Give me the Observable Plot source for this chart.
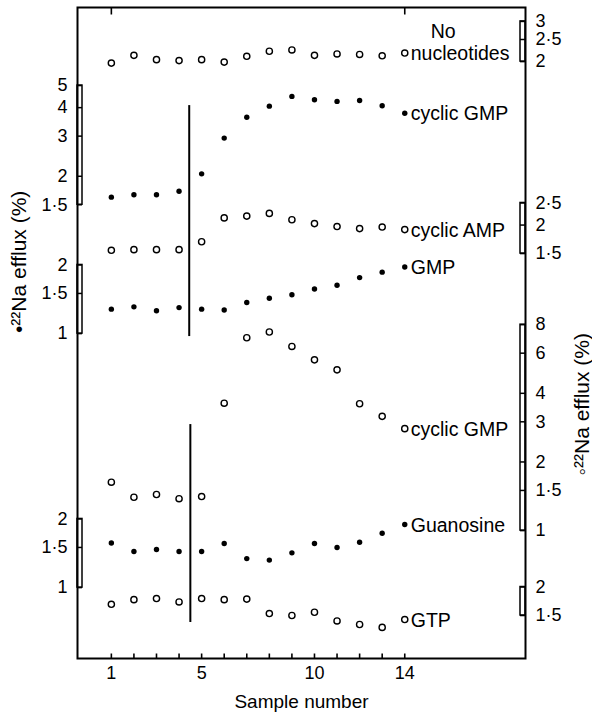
<!DOCTYPE html>
<html>
<head>
<meta charset="utf-8">
<script src="https://cdn.jsdelivr.net/npm/d3@7"></script>
<script src="https://cdn.jsdelivr.net/npm/@observablehq/plot@0.6"></script>
<style>
  html, body { margin: 0; padding: 0; background: #fff; }
  #chart { width: 592px; height: 716px; }
</style>
</head>
<body>
<div id="chart"></div>
<script>
// ---------------- data ----------------
const samples = [1, 2, 3, 4, 5, 6, 7, 8, 9, 10, 11, 12, 13, 14];
const xTickLabels = [1, 5, 10, 14];

// 22Na efflux (%) per sample
const noNucleotides   = [1.97, 2.13, 2.04, 2.02, 2.04, 1.99, 2.11, 2.22, 2.25, 2.13, 2.16, 2.15, 2.12, 2.18]; // open
const cyclicGMPFilled = [1.62, 1.66, 1.66, 1.72, 2.05, 2.94, 3.63, 4.06, 4.48, 4.33, 4.26, 4.30, 4.08, 3.78]; // filled
const cyclicAMP       = [1.55, 1.56, 1.56, 1.56, 1.69, 2.15, 2.19, 2.25, 2.11, 2.03, 1.97, 1.93, 1.96, 1.91]; // open
const gmp             = [1.28, 1.31, 1.26, 1.30, 1.28, 1.27, 1.37, 1.43, 1.48, 1.57, 1.63, 1.76, 1.86, 1.96]; // filled
const cyclicGMPOpen   = [1.63, 1.40, 1.44, 1.38, 1.41, 3.62, 7.01, 7.43, 6.42, 5.61, 5.07, 3.60, 3.17, 2.80]; // open
const guanosine       = [1.57, 1.44, 1.47, 1.44, 1.44, 1.56, 1.34, 1.32, 1.42, 1.56, 1.50, 1.58, 1.73, 1.89]; // filled
const gtp             = [1.68, 1.76, 1.78, 1.72, 1.78, 1.76, 1.77, 1.53, 1.50, 1.55, 1.42, 1.37, 1.33, 1.44]; // open

const seriesNames  = ["nucleotides", "cyclic GMP", "cyclic AMP", "GMP", "cyclic GMP", "Guanosine", "GTP"];
const seriesValues = [noNucleotides, cyclicGMPFilled, cyclicAMP, gmp, cyclicGMPOpen, guanosine, gtp];
const seriesOpen   = [true, false, true, false, true, false, true];

// scale-bar ticks per series (value ticks on the log scale bars)
const barTicks = [
  [2, 2.5, 3],
  [1.5, 2, 3, 4, 5],
  [1.5, 2, 2.5],
  [1, 1.5, 2],
  [1, 1.5, 2, 3, 4, 6, 8],
  [1, 1.5, 2],
  [1.5, 2]
];

// sample at which the nucleotide was added (vertical markers) and the series they span
const additionSample = [4.45, 4.5];
const additionSpan = [[1, 3], [4, 6]]; // from series index to series index

// ---------------- layout (positions / styles) ----------------
const pxPerDecade = 228;
const W = 592, H = 716;
const mL = 77, mR = 67, mT = 7, mB = 58;
const frameH = H - mT - mB;
const yMax = frameH / pxPerDecade;
const xDomain = [-0.5, 19.35];
const pxPerSample = (W - mL - mR) / (xDomain[1] - xDomain[0]);
// vertical offset (in decades above the frame bottom) of value 1 for each series
const offsets = [2.317, 1.814, 1.600, 1.425, 0.561, 0.311, 0.0125];
// additional extents of the addition markers beyond series (decades)
const additionTop = [2.425, 1.026];
const additionBottom = [1.412, 0.158];
const barWidthPx = 5;
const fmt = v => String(v).replace(".", "\u00B7");

// ---------------- derived tables ----------------
const pts = [];
seriesValues.forEach((vals, k) => {
  vals.forEach((v, i) => pts.push({x: samples[i], y: Math.log10(v) + offsets[k], open: seriesOpen[k]}));
});
const labels = seriesValues.map((vals, k) => ({
  x: samples[samples.length - 1],
  y: Math.log10(vals[vals.length - 1]) + offsets[k],
  text: seriesNames[k]
}));
const bars = barTicks.map((t, k) => {
  const right = seriesOpen[k];
  const w = barWidthPx / pxPerSample;
  return {
    x1: right ? xDomain[1] - w : xDomain[0],
    x2: right ? xDomain[1] : xDomain[0] + w,
    y1: Math.log10(d3.min(t)) + offsets[k],
    y2: Math.log10(d3.max(t)) + offsets[k],
    right
  };
});
const ticks = [];
barTicks.forEach((t, k) => t.forEach(v => ticks.push({
  y: Math.log10(v) + offsets[k], label: fmt(v), right: seriesOpen[k],
  x1: bars[k].x1, x2: bars[k].x2
})));
const additions = additionSample.map((s, j) => ({x: s, y1: additionTop[j], y2: additionBottom[j]}));

const tickUp = {draw(ctx) { ctx.moveTo(0, 0); ctx.lineTo(0, -5); }};
const tickDown = {draw(ctx) { ctx.moveTo(0, 0); ctx.lineTo(0, 7); }};

const chart = Plot.plot({
  width: W, height: H,
  marginLeft: mL, marginRight: mR, marginTop: mT, marginBottom: mB,
  style: {fontFamily: "'Liberation Sans', Arial, sans-serif", color: "black", background: "white"},
  x: {domain: xDomain, axis: null},
  y: {domain: [0, yMax], axis: null},
  marks: [
    // scale bars
    Plot.rect(bars, {x1: "x1", x2: "x2", y1: "y1", y2: "y2", fill: "white", stroke: "black", strokeWidth: 1.5}),
    Plot.ruleY(ticks, {y: "y", x1: "x1", x2: "x2", stroke: "black", strokeWidth: 1.5}),
    Plot.text(ticks.filter(d => !d.right), {y: "y", text: "label", frameAnchor: "left", dx: -10, textAnchor: "end", fontSize: 18}),
    Plot.text(ticks.filter(d => d.right), {y: "y", text: "label", frameAnchor: "right", dx: 10, textAnchor: "start", fontSize: 18}),
    // frame and x ticks
    Plot.frame({stroke: "black", strokeWidth: 2}),
    Plot.dot(samples, {x: d => d, frameAnchor: "bottom", symbol: tickUp, stroke: "black", strokeWidth: 1.6, fill: "none"}),
    Plot.dot([samples[0], samples[samples.length - 1]], {x: d => d, frameAnchor: "top", symbol: tickDown, stroke: "black", strokeWidth: 1.6, fill: "none"}),
    Plot.text(xTickLabels, {x: d => d, frameAnchor: "bottom", dy: 20, fontSize: 18}),
    Plot.text(["Sample number"], {frameAnchor: "bottom", dy: 49, fontSize: 19}),
    Plot.text(["\u2022\u00B2\u00B2Na efflux (%)"], {frameAnchor: "left", dx: -58, dy: 0, rotate: -90, fontSize: 21, letterSpacing: 0.5}),
    Plot.text(["\u25E6\u00B2\u00B2Na efflux (%)"], {frameAnchor: "right", dx: 57, rotate: -90, fontSize: 21, letterSpacing: 0.5}),
    // addition markers
    Plot.ruleX(additions, {x: "x", y1: "y1", y2: "y2", stroke: "black", strokeWidth: 2}),
    // data
    Plot.dot(pts.filter(d => d.open), {x: "x", y: "y", r: 3.1, stroke: "black", strokeWidth: 1.4, fill: "white"}),
    Plot.dot(pts.filter(d => !d.open), {x: "x", y: "y", r: 2.7, fill: "black", stroke: "none"}),
    // series labels
    Plot.text(labels, {x: "x", y: "y", text: "text", dx: 6, dy: 1, textAnchor: "start", fontSize: 19.5}),
    Plot.text([labels[0]], {x: "x", y: "y", text: () => "No", dx: 26, dy: -21, textAnchor: "start", fontSize: 19.5})
  ]
});
document.getElementById("chart").append(chart);
</script>
</body>
</html>
